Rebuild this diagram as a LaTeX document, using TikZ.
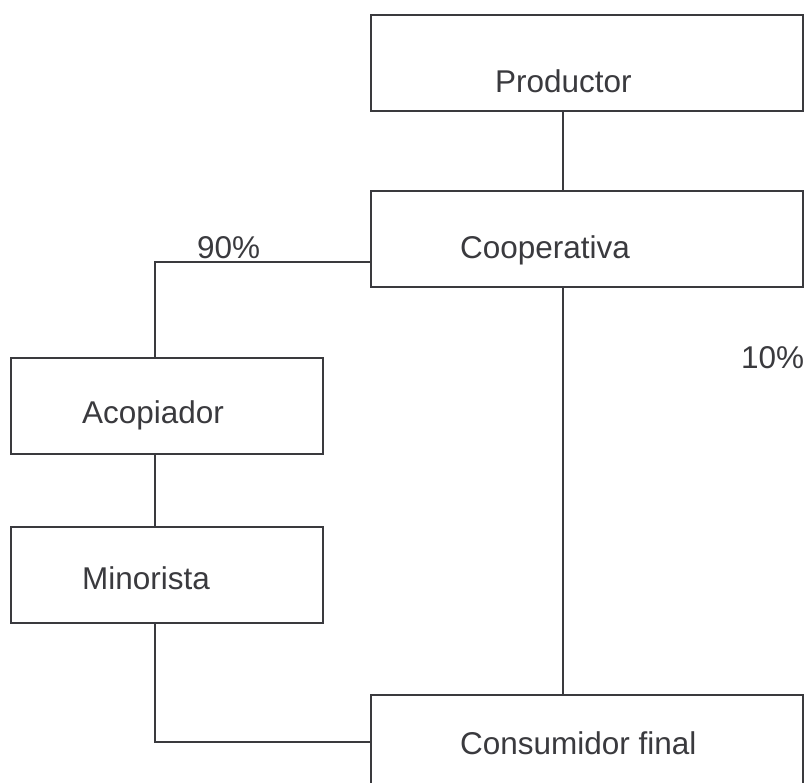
\documentclass[tikz,border=0pt]{standalone}
\usepackage{fontspec}
\setmainfont{Liberation Sans}
\definecolor{ink}{RGB}{58,58,62}
\begin{document}
\begin{tikzpicture}[x=1bp,y=-1bp,
  box/.style={draw=ink,line width=1.3bp,rectangle,inner sep=0,outer sep=0,minimum height=96bp},
  wide/.style={box,minimum width=432bp},
  narrow/.style={box,minimum width=312bp},
  txt/.style={anchor=base west,inner sep=0,text=ink,font=\fontsize{31.6}{38}\selectfont},
  link/.style={draw=ink,line width=1.3bp}]
\useasboundingbox[fill=white] (0,0) rectangle (807,783);
\node[wide] (prod) at (587,63) {};
\node[wide] (coop) at (587,239) {};
\node[narrow] (acop) at (167,406) {};
\node[narrow] (mino) at (167,575) {};
\node[wide] (cons) at (587,743) {};
\node[txt] (tprod) at (495,92) {Productor};
\node[txt] (tcoop) at (460,258) {Cooperativa};
\node[txt] (tacop) at (82,423) {Acopiador};
\node[txt] (tmino) at (82,589) {Minorista};
\node[txt] (tcons) at (460,754) {Consumidor final};
\node[txt] (p90) at (197,258) {90\%};
\node[txt] (p10) at (741,368) {10\%};
\draw[link] ([xshift=-24bp]prod.south) -- ([xshift=-24bp]coop.north);
\draw[link] ([yshift=-23bp]coop.west) -| ([xshift=-12bp]acop.north);
\draw[link] ([xshift=-24bp]coop.south) -- ([xshift=-24bp]cons.north);
\draw[link] ([xshift=-12bp]acop.south) -- ([xshift=-12bp]mino.north);
\draw[link] ([xshift=-12bp]mino.south) |- ([yshift=1bp]cons.west);
\end{tikzpicture}
\end{document}
